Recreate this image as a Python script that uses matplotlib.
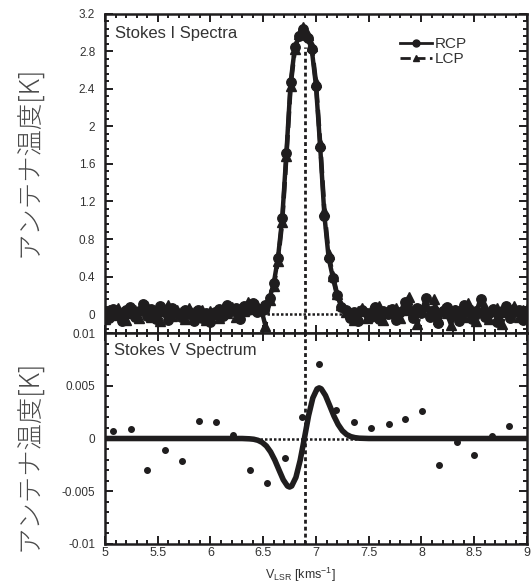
import numpy as np
import matplotlib
matplotlib.use("Agg")
import matplotlib.pyplot as plt
from matplotlib.ticker import MultipleLocator, FuncFormatter

plt.rcParams['font.family'] = ['Liberation Sans', 'DejaVu Sans']
plt.rcParams['mathtext.default'] = 'regular'

ink = '#1f1d1e'
txt = '#333333'

# チャンネル速度 [km/s]
vlsr = [5.00, 5.04, 5.08, 5.12, 5.16, 5.20, 5.24, 5.28, 5.32, 5.36,
        5.40, 5.44, 5.48, 5.52, 5.56, 5.60, 5.64, 5.68, 5.72, 5.76,
        5.80, 5.84, 5.88, 5.92, 5.96, 6.00, 6.04, 6.08, 6.12, 6.16,
        6.20, 6.24, 6.28, 6.32, 6.36, 6.40, 6.44, 6.48, 6.52, 6.56,
        6.60, 6.64, 6.68, 6.72, 6.76, 6.80, 6.84, 6.88, 6.92, 6.96,
        7.00, 7.04, 7.08, 7.12, 7.16, 7.20, 7.24, 7.28, 7.32, 7.36,
        7.40, 7.44, 7.48, 7.52, 7.56, 7.60, 7.64, 7.68, 7.72, 7.76,
        7.80, 7.84, 7.88, 7.92, 7.96, 8.00, 8.04, 8.08, 8.12, 8.16,
        8.20, 8.24, 8.28, 8.32, 8.36, 8.40, 8.44, 8.48, 8.52, 8.56,
        8.60, 8.64, 8.68, 8.72, 8.76, 8.80, 8.84, 8.88, 8.92, 8.96,
        9.00]

# Stokes I (RCP / LCP) [K]
rcp = [0.02, -0.04, 0.06, 0.01, -0.07, 0.04, 0.08, -0.03, 0.03, 0.11,
       -0.02, 0.06, -0.05, 0.09, 0.02, -0.06, 0.07, 0.01, -0.03, 0.05,
       0.00, -0.07, 0.04, -0.04, 0.01, -0.08, 0.02, 0.06, -0.02, 0.10,
       0.03, 0.07, -0.05, 0.09, 0.04, 0.12, 0.02, 0.06, 0.10, 0.17,
       0.33, 0.60, 1.02, 1.72, 2.47, 2.84, 2.96, 3.03, 2.94, 2.82,
       2.43, 1.78, 1.05, 0.60, 0.39, 0.20, 0.08, 0.04, -0.04, 0.02,
       -0.07, 0.05, 0.01, -0.03, 0.08, -0.05, 0.03, 0.00, 0.06, -0.06,
       0.02, 0.13, 0.04, -0.04, 0.07, 0.01, 0.17, -0.03, 0.05, -0.09,
       0.03, 0.08, -0.02, 0.04, -0.07, 0.10, 0.02, -0.05, 0.03, 0.16,
       -0.03, 0.01, 0.06, -0.08, 0.03, 0.09, -0.04, 0.02, 0.05, -0.06,
       0.01]
lcp = [-0.05, 0.04, -0.01, 0.07, 0.02, -0.06, 0.01, 0.05, -0.04, 0.06,
       0.09, -0.03, 0.03, -0.07, 0.05, 0.10, -0.02, 0.04, 0.02, -0.05,
       0.07, 0.02, -0.03, 0.05, -0.06, 0.03, 0.00, -0.04, 0.07, 0.01,
       0.08, -0.03, 0.05, 0.03, 0.13, 0.06, 0.10, 0.06, -0.12, 0.15,
       0.30, 0.57, 0.98, 1.68, 2.43, 2.82, 2.98, 3.06, 2.97, 2.85,
       2.47, 1.82, 1.10, 0.64, 0.41, 0.22, 0.10, 0.02, 0.01, -0.06,
       0.03, 0.07, -0.04, 0.05, 0.02, 0.09, -0.06, 0.04, 0.01, 0.07,
       -0.04, 0.05, 0.18, 0.02, -0.10, 0.04, 0.09, 0.03, 0.16, -0.05,
       0.06, 0.01, -0.11, 0.05, 0.03, -0.03, 0.12, 0.04, -0.07, 0.02,
       0.08, -0.05, 0.03, 0.07, -0.10, 0.02, 0.05, 0.09, -0.03, 0.04,
       0.06]

# Stokes V 観測点 [K]
v_pts = [5.075, 5.245, 5.40, 5.567, 5.734, 5.895, 6.055, 6.216, 6.377, 6.537,
         6.708, 6.868, 7.029, 7.19, 7.357, 7.517, 7.688, 7.848, 8.009, 8.17,
         8.337, 8.497, 8.664, 8.825]
stokes_v = [0.00075, 0.00089, -0.00295, -0.00105, -0.00214, 0.00169, 0.00156, 0.00033,
            -0.00295, -0.00424, -0.00186, 0.00201, 0.0071, 0.00266, 0.00153, 0.00098,
            0.00137, 0.00189, 0.00259, -0.00247, -0.00031, -0.0016, 0.00024, 0.00114]

# Stokes V フィット曲線
fit_v = [5.00, 6.30, 6.37, 6.41, 6.45, 6.49, 6.53, 6.57, 6.61, 6.65,
         6.69, 6.73, 6.75, 6.77, 6.81, 6.85, 6.89, 6.93, 6.97, 7.01,
         7.03, 7.05, 7.09, 7.13, 7.17, 7.21, 7.25, 7.29, 7.33, 7.37,
         7.41, 7.50, 9.00]
fit_vals = [0, 0, -0.00003, -0.00007, -0.00017, -0.00037, -0.00071, -0.00127, -0.00205, -0.00299,
            -0.00391, -0.00451, -0.0046, -0.0045, -0.00368, -0.00208, 0.0, 0.00217, 0.00384, 0.0047,
            0.0048, 0.00471, 0.00408, 0.00312, 0.00214, 0.00133, 0.00074, 0.00038, 0.00018, 0.00008,
            0.00003, 0, 0]

v_peak = 6.9


def fmt(v, pos):
    if abs(v) < 1e-9:
        return '0'
    return '%g' % round(v, 6)


fig = plt.figure(figsize=(5.31, 5.82), dpi=100)
ax1 = fig.add_axes([0.1977, 0.4278, 0.7947, 0.549])
ax2 = fig.add_axes([0.1977, 0.0653, 0.7947, 0.3625])

# 上段: Stokes I
ax1.plot([6.45, 7.3], [0, 0], color=ink, lw=1.8, ls=(0, (1, 0.8)), zorder=1)
ax1.plot(vlsr, rcp, '-o', color=ink, lw=3.2, ms=6.8, label='RCP', zorder=3)
ax1.plot(vlsr, lcp, '--^', color=ink, lw=3.2, ms=6.8, label='LCP', zorder=3)
ax1.axvline(v_peak, ymin=0, ymax=0.895, color=ink, lw=2, ls=(0, (1.4, 1.1)), zorder=4)
ax1.set_xlim(5, 9)
ax1.set_ylim(-0.2, 3.2)
ax1.yaxis.set_major_locator(MultipleLocator(0.4))
ax1.yaxis.set_minor_locator(MultipleLocator(0.08))
ax1.text(0.024, 0.936, 'Stokes I Spectra', transform=ax1.transAxes,
         fontsize=12, color=txt, va='center', ha='left')
leg = ax1.legend(loc='upper left', bbox_to_anchor=(0.68, 0.95), frameon=False,
                 fontsize=11, handlelength=2.1, handletextpad=0.2,
                 labelspacing=0.05, borderpad=0, labelcolor=txt)
for h in leg.legend_handles:
    h.set_linewidth(2)
    h.set_markersize(5)

# 下段: Stokes V
ax2.plot([6.3, 7.45], [0, 0], color=ink, lw=1.8, ls=(0, (1, 0.8)), zorder=1)
ax2.plot(fit_v, fit_vals, '-', color=ink, lw=4, solid_capstyle='round', zorder=2)
ax2.plot(v_pts, stokes_v, 'o', color=ink, ms=4, zorder=3)
ax2.axvline(v_peak, color=ink, lw=2, ls=(0, (1.4, 1.1)), zorder=4)
ax2.set_xlim(5, 9)
ax2.set_ylim(-0.01, 0.01)
ax2.yaxis.set_major_locator(MultipleLocator(0.005))
ax2.yaxis.set_minor_locator(MultipleLocator(0.001))
ax2.text(0.022, 0.915, 'Stokes V Spectrum', transform=ax2.transAxes,
         fontsize=12, color=txt, va='center', ha='left')

for ax in (ax1, ax2):
    ax.xaxis.set_major_locator(MultipleLocator(0.5))
    ax.xaxis.set_minor_locator(MultipleLocator(0.1))
    ax.xaxis.set_major_formatter(FuncFormatter(fmt))
    ax.yaxis.set_major_formatter(FuncFormatter(fmt))
    ax.tick_params(which='both', direction='in', top=True, right=True,
                   color=ink, width=1.4, labelcolor=txt)
    ax.tick_params(which='major', length=5.5)
    ax.tick_params(which='minor', length=3)
    ax.tick_params(axis='y', labelsize=8.5, pad=7)
    ax.tick_params(axis='x', labelsize=9, pad=2)
    for s in ax.spines.values():
        s.set_linewidth(1.8)
        s.set_color(ink)

ax1.tick_params(axis='x', labelbottom=False)

jp = ['Noto Sans CJK JP', 'DejaVu Sans']
fig.text(0.055, 0.722, 'アンテナ温度[K]', rotation=90, fontsize=19, family=jp,
         color='#4a4a4a', ha='center', va='center', weight='light')
fig.text(0.055, 0.218, 'アンテナ温度[K]', rotation=90, fontsize=19, family=jp,
         color='#4a4a4a', ha='center', va='center', weight='light')
fig.text(0.565, 0.013, 'V$_{LSR}$ [kms$^{-1}$]', ha='center', va='center',
         fontsize=9, color=txt)

fig.savefig('out.png', dpi=100)
